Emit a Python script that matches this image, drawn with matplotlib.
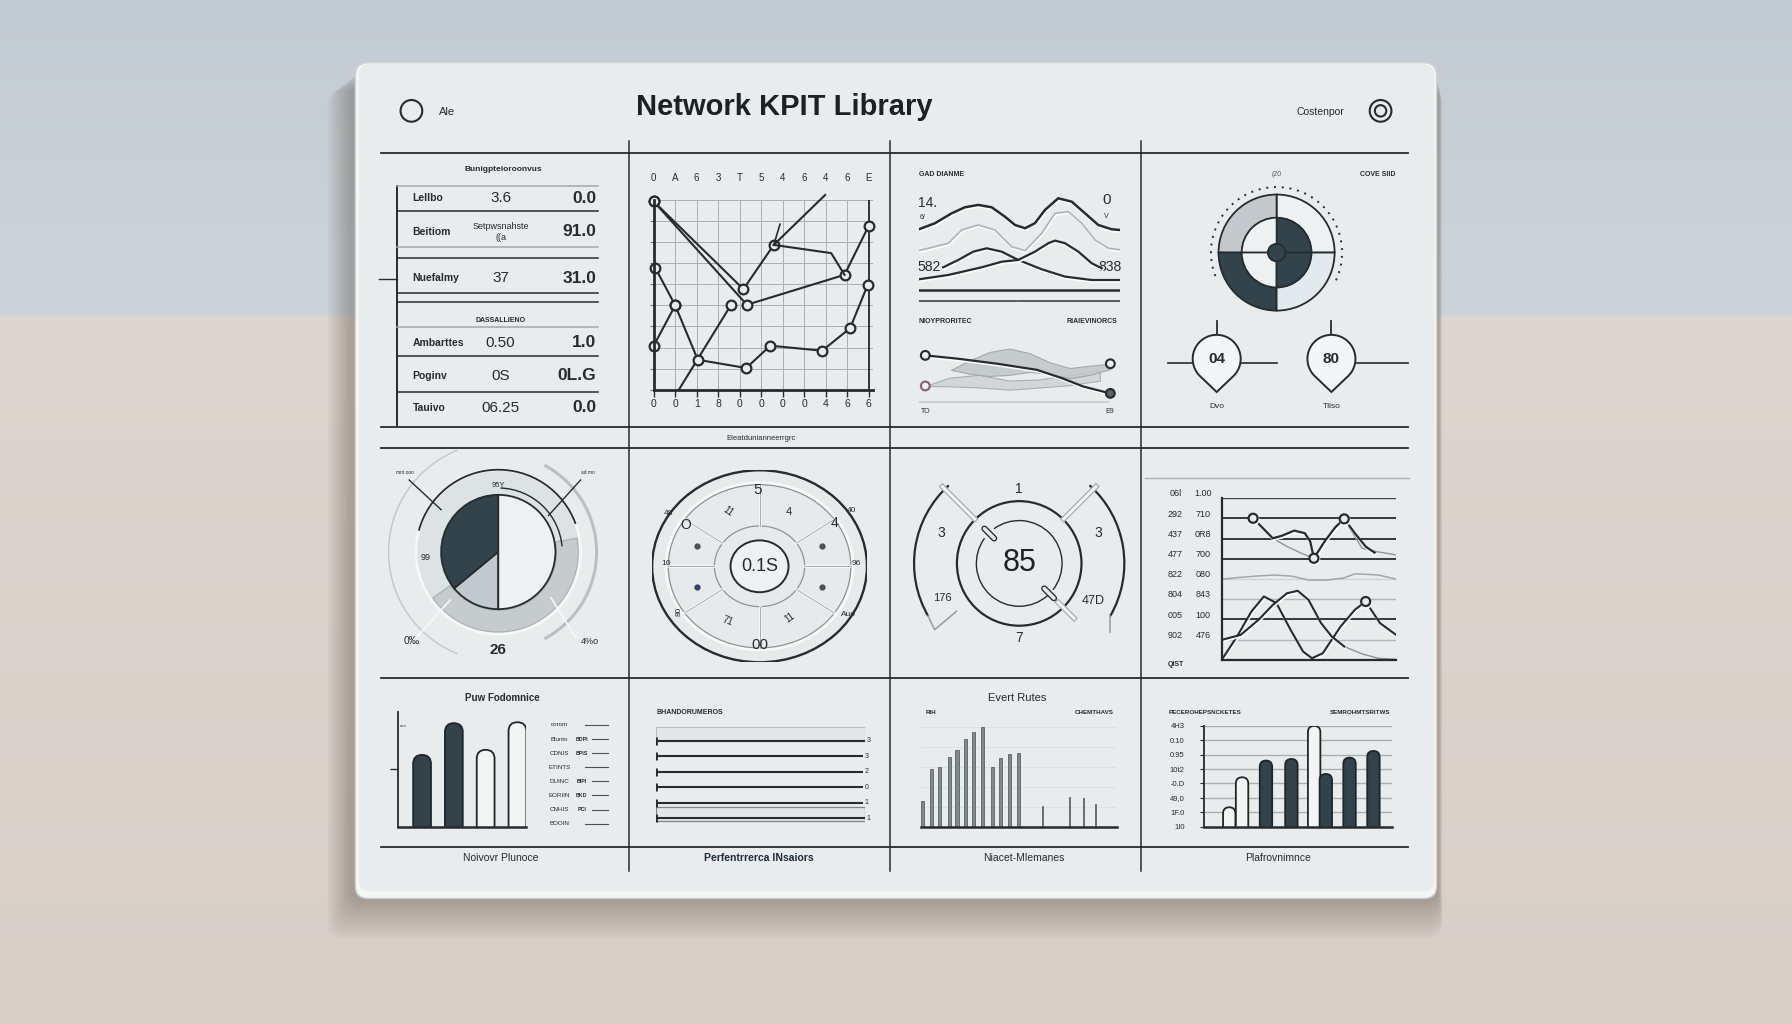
import matplotlib.pyplot as plt
import numpy as np
from matplotlib import colors as mcolors
from matplotlib import patheffects as pe
from matplotlib.patches import FancyBboxPatch, Circle, Wedge, Arc, Rectangle, Polygon

plt.rcParams['font.family'] = ['Liberation Sans', 'DejaVu Sans']

# ---- values ----
title = 'Network KPIT Library'
corner_left = 'Ale'
corner_right = 'Costenpor'

tbl_head = 'Bunigpteioroonvus'
tbl_names = ['Lellbo', 'Beitiom', 'Nuefalmy']
tbl_mid = ['3.6', 'Setpwsnahste\n((a', '37']
tbl_right = ['0.0', '91.0', '31.0']
tbl2_head = 'DASSALLIENO'
tbl2_names = ['Ambarttes', 'Poginv', 'Tauivo']
tbl2_mid = ['0.50', '0S', '06.25']
tbl2_right = ['1.0', '0L.G', '0.0']

grid_top = ['0', 'A', '6', '3', 'T', '5', '4', '6', '4', '6', 'E']
grid_bottom = ['0', '0', '1', '8', '0', '0', '0', '0', '4', '6', '6']
la_x = [0, 4.33, 8.87, 10.0]
la_y = [8.93, 4.03, 5.45, 7.79]
lb_x = [0, 4.17, 5.58]
lb_y = [8.93, 4.77, 6.87]
lb_tail_x = [5.58, 7.97]
lb_tail_y = [6.87, 9.24]
lb_stub_x = [5.58, 5.87]
lb_stub_y = [6.87, 7.85]
lc_x = [1.17, 3.58]
lc_y = [0.0, 4.0]
ld_x = [0.08, 1.0, 2.05, 4.3, 5.42, 7.83, 9.13, 9.95]
ld_y = [5.77, 4.0, 1.42, 1.03, 2.09, 1.85, 2.92, 4.98]
le_x = [0, 1.0]
le_y = [2.09, 4.0]
lf_x = [5.58, 8.25, 8.87]
lf_y = [6.87, 6.48, 5.45]

wave_x = [0, 8, 16.3, 22.9, 29.5, 36.2, 42.8, 47.8, 52.8, 57.7, 62.7, 69.3, 76, 82.6, 89.2, 95.9, 100]
wave_y = [63.1, 68.3, 76.8, 82, 84, 82, 73.9, 66.8, 64, 68.3, 79.7, 89.7, 86.8, 76.8, 66.8, 63.1, 62.5]
ghost_x = [0, 14.6, 21.3, 29.5, 37.8, 46.1, 52.8, 61.1, 67.7, 74.3, 80.9, 87.6, 94.2, 100]
ghost_y = [44.8, 51.1, 62.5, 66.8, 62.5, 48.2, 44.8, 59.7, 76.8, 78.2, 68.3, 53.9, 46.8, 45.5]
cross_a_x = [12.1, 19.6, 27, 33.7, 41.2, 49.4, 61.1, 72.7, 85.9, 100]
cross_a_y = [30.5, 36.8, 43.9, 46.8, 43.9, 36.8, 28.8, 22.5, 19.6, 19.6]
cross_b_x = [0, 14.6, 31.2, 41.2, 49.4, 57.7, 64.3, 67.7, 72.7, 79.3, 85.9, 90.9]
cross_b_y = [20.2, 23.9, 30.5, 35.3, 36.8, 43.9, 51.1, 53.4, 51.1, 43.9, 34, 29.7]
wave_texts = ['GAD DIANME', '14.', '6/', '0', 'V', '582', '838']

flow_x = [3.2, 19.6, 39.1, 58.7, 71.2, 81.9, 95.2]
flow_y = [84.1, 78.2, 69.4, 58.8, 44.1, 29.4, 17.6]
band_x = [16, 25, 35, 45, 55, 65, 75, 85, 95]
band_hi = [58.8, 75, 90, 96, 88, 72, 62, 66, 69.4]
band_lo = [58.8, 52, 48, 50, 55, 52, 44, 50, 60]
band2_x = [3.2, 15, 30, 45, 60, 75, 90]
band2_hi = [30.6, 45, 50, 40, 42, 50, 58]
band2_lo = [30.6, 30, 28, 24, 28, 32, 40]
flow_end_x = [3.2, 3.2, 95.2, 95.2]
flow_end_y = [84.1, 30.6, 69.4, 17.6]

quad_outer = [25, 25, 25, 25]
quad_inner = [25, 25, 25, 25]
pin_values = ['04', '80']
pin_names = ['Dvo', 'Tliso']

pie_shares = [36, 14, 50]
pie_marks = ['95Y', '99', '26', '0‰', '4%o']

dial_center = '0.1S'
dial_marks = ['5', '11', '4', '4', '40', '48', 'O', '10', '96', '80', '71', '11', 'Auo', '00']

gauge_value = '85'
gauge_marks = ['1', '3', '3', '176', '47D', '7']

p8_left = ['06l', '292', '437', '477', '822', '804', '005', '902']
p8_right = ['1.00', '710', '0R8', '700', '080', '843', '100', '476']
p8_up_x = [1.80, 2.42, 2.93, 3.44, 4.16, 4.77, 5.08, 5.29, 5.90, 6.52, 7.03, 7.64, 8.26, 8.77]
p8_up_y = [7.01, 6.47, 6.02, 6.14, 6.40, 6.27, 5.86, 5.03, 5.86, 6.57, 6.98, 6.27, 5.61, 5.31]
p8_thin_x = [2.93, 3.75, 4.57, 5.29]
p8_thin_y = [6.02, 5.61, 5.28, 5.03]
p8_tail_x = [7.03, 8.05, 8.87, 10]
p8_tail_y = [6.98, 5.53, 5.36, 5.2]
p8_flat_x = [0.06, 1, 2, 3, 4, 5, 6, 7, 7.6, 8, 9, 10]
p8_flat_y = [4.0, 4.08, 4.15, 4.2, 4.15, 3.95, 3.95, 4.05, 4.25, 4.25, 4.2, 4.0]
p8_low1_x = [0, 0.88, 1.7, 2.42, 3.14, 3.95, 4.67, 5.18, 5.8, 6.82, 7.64, 8.26, 9.08, 10]
p8_low1_y = [0, 1.16, 2.39, 3.14, 2.81, 1.49, 0.41, 0.08, 0.33, 1.65, 2.48, 2.89, 1.82, 1.24]
p8_low2_x = [0, 1.09, 2.11, 2.93, 3.75, 4.36, 4.98, 5.70, 6.31, 7.03]
p8_low2_y = [0.99, 1.24, 1.98, 2.72, 3.30, 3.42, 2.97, 1.82, 1.16, 0.66]
p8_low2_tail_x = [7.03, 8.05, 8.98, 10]
p8_low2_tail_y = [0.66, 0.3, 0.08, 0.03]

p9_title = 'Puw Fodomnice'
p9_values = [62.3, 89.9, 66.7, 90.7]
p9_dark = [True, True, False, False]
p9_legend = ['corom', 'Blunto', 'CDNIS', 'ETINTS', 'DUINC', 'EORIIN', 'CNHIS', 'BOOIN']
p9_codes = ['', 'BDPI', 'BPIS', '', 'BIPI', 'BKD', 'PCI', '']

p10_head = 'BHANDORUMEROS'
p10_values = [100, 99, 99, 99, 99, 100]
p10_labels = ['3', '3', '2', '0', '1', '1']

p11_title = 'Evert Rutes'
p11_x = [0.2, 1.2, 2.1, 3.2, 4.1, 5.1, 6.0, 7.0, 8.1, 9.1, 10.1, 11.1, 13.9, 16.9, 18.5, 19.9]
p11_h = [25.7, 57.3, 59.3, 69.3, 76.7, 87.7, 94.3, 100, 59.3, 68.3, 72.3, 74, 20.7, 30, 28.3, 22.7]

p12_heads = ['PECEROHEPSNCKETES', 'SEMROHMTSRITWS']
p12_ticks = ['1I0', '1F.0', '49,0', '-0.D', '10t2', '0.95', '0.10', '4H3']
p12_x = [13.3, 20.1, 32.8, 46.3, 58.4, 64.6, 77.2, 89.9]
p12_h = [19.2, 49, 65.6, 67.2, 100, 52.3, 68.5, 75.2]
p12_dark = [False, False, True, True, False, True, True, True]

footers = ['Noivovr Plunoce', 'Perfentrrerca lNsaiors', 'Niacet-Mlemanes', 'Plafrovnimnce']

# ---- layout ----
W, H = 1568, 896
INK = '#252b2f'
DARK = '#33434b'
GRAY = '#c3c9cc'
PALE = '#eef1f2'
PANEL = '#e8ecec'
emb = [pe.SimpleLineShadow(offset=(0.6, -1.2), shadow_color='white', alpha=0.9), pe.Normal()]

fig = plt.figure(figsize=(17.92, 10.24), dpi=100)
ax0 = fig.add_axes([0, 0, 1, 1])


def grad(c_top, c_bot, n=64):
    a = np.array(mcolors.to_rgb(c_top))
    b = np.array(mcolors.to_rgb(c_bot))
    t = np.linspace(0, 1, n)[:, None, None]
    return a + (b - a) * t


def inset(x0, y0, x1, y1):
    a = fig.add_axes([x0 / W, 1 - y1 / H, (x1 - x0) / W, (y1 - y0) / H])
    a.patch.set_alpha(0)
    return a


def rounded_bars(ax, xs, hs, w, faces, edge='#1f2629', lw=1.3):
    bb = ax.get_position()
    bw, bh = bb.width * 1792, bb.height * 1024
    (x0, x1), (y0, y1) = ax.get_xlim(), ax.get_ylim()
    m = ((y1 - y0) / bh) / ((x1 - x0) / bw)
    ry = m * w / 2
    for x, h, fc in zip(xs, hs, faces):
        ax.add_patch(FancyBboxPatch((x - w / 2, -ry), w, h + ry,
                                    boxstyle=f'round,pad=0,rounding_size={w / 2}',
                                    mutation_aspect=m, fc=fc, ec=edge, lw=lw))


ax0.imshow(grad('#c3ccd2', '#cdd4d9'), extent=[0, W, 277, 0], aspect='auto', zorder=0)
ax0.imshow(grad('#ddd6d0', '#d7cfc8'), extent=[0, W, H, 277], aspect='auto', zorder=0)
ax0.set_xlim(0, W)
ax0.set_ylim(H, 0)
ax0.axis('off')

# soft shadow and board
for i in range(16):
    ax0.add_patch(FancyBboxPatch((306 - i * 1.3, 64 + i * 1.0), 953 + i * 1.5, 726 + i * 1.1,
                                 boxstyle='round,pad=0,rounding_size=14', fc='#54463c',
                                 ec='none', alpha=0.022, zorder=1))
ax0.add_patch(FancyBboxPatch((311, 55), 946, 731, boxstyle='round,pad=0,rounding_size=11',
                             fc='#f5f7f7', ec='#cfd4d6', lw=1, zorder=2))
ax0.add_patch(FancyBboxPatch((314, 56), 941, 724, boxstyle='round,pad=0,rounding_size=10',
                             fc=PANEL, ec='none', zorder=2))

for y in [134, 374, 392, 593, 741]:
    ax0.plot([333, 1232], [y, y], color=INK, lw=1.3, zorder=3)
for x in [550, 779, 998]:
    ax0.plot([x, x], [123, 762], color=INK, lw=1.1, zorder=3)

# header
ax0.add_patch(Circle((360, 97), 9.5, fill=False, ec=INK, lw=1.5, zorder=4))
ax0.text(384, 98, corner_left, fontsize=8, ha='left', va='center', color=INK)
ax0.text(686, 94, title, fontsize=21, fontweight='bold', ha='center', va='center', color='#1b2226')
ax0.text(1155, 98, corner_right, fontsize=7.5, ha='center', va='center', color=INK)
ax0.add_patch(Circle((1208, 97), 9.5, fill=False, ec=INK, lw=1.5, zorder=4))
ax0.add_patch(Circle((1208, 97), 5, fill=False, ec=INK, lw=1.5, zorder=4))

# table
ax0.text(440, 148, tbl_head, fontsize=6, fontweight='bold', ha='center', va='center', color=INK)
ax0.plot([347, 347], [163, 372], color=INK, lw=1.4, zorder=3)
ax0.plot([332, 347], [244, 244], color=INK, lw=1, zorder=3)
for y, c in [(163, '#a2a9ac'), (184.5, INK), (216, '#a2a9ac'), (225.5, INK), (256, INK),
             (264.5, INK), (286, '#a2a9ac'), (311.5, INK), (342.7, INK)]:
    ax0.plot([347, 523], [y, y], color=c, lw=1.1, zorder=3)
for names, mids, rights, ys in [(tbl_names, tbl_mid, tbl_right, [173.5, 203, 243.5]),
                                (tbl2_names, tbl2_mid, tbl2_right, [300, 329, 357])]:
    for n, m, r, y in zip(names, mids, rights, ys):
        ax0.text(361, y, n, fontsize=7.5, fontweight='bold', ha='left', va='center', color=INK)
        small = '\n' in m
        ax0.text(438, y, m, fontsize=6.5 if small else 11, ha='center', va='center',
                 linespacing=1.3, color=INK)
        ax0.text(522, y, r, fontsize=12.5, fontweight='bold', ha='right', va='center', color=INK)
ax0.text(438, 280.5, tbl2_head, fontsize=5, fontweight='bold', ha='center', va='center', color=INK)

# grid line chart
ax = inset(572, 175, 764, 341)
ax.set_xlim(0, 10.2)
ax.set_ylim(0, 9)
ax.set_xticks(range(11))
ax.set_xticklabels(grid_bottom, fontsize=7.5, color=INK)
ax.set_yticks(range(10))
ax.set_yticklabels([])
ax.grid(True, color='#a9afb2', lw=0.7)
ax.tick_params(axis='x', direction='out', length=5, width=1, pad=2, colors=INK)
ax.tick_params(axis='y', length=3, width=0.8, colors='#6d7478')
for s in ['top', 'right']:
    ax.spines[s].set_visible(False)
for s in ['left', 'bottom']:
    ax.spines[s].set_linewidth(2)
    ax.spines[s].set_color(INK)
ax.axvline(10, color=INK, lw=1.3)
sec = ax.secondary_xaxis('top')
sec.set_xticks(range(11))
sec.set_xticklabels(grid_top, fontsize=7, color=INK)
sec.tick_params(length=0, pad=12)
sec.spines['top'].set_visible(False)
mk = dict(marker='o', ms=7, mfc=PANEL, mec=INK, mew=1.6, color=INK, lw=1.5, clip_on=False)
ax.plot(la_x, la_y, **mk)
ax.plot(lb_x, lb_y, **mk)
ax.plot(lb_tail_x, lb_tail_y, color=INK, lw=1.5, clip_on=False)
ax.plot(lb_stub_x, lb_stub_y, color=INK, lw=1.2, clip_on=False)
ax.plot(lc_x, lc_y, markevery=[1], **mk)
ax.plot(le_x, le_y, **mk)
ax.plot(lf_x, lf_y, color=INK, lw=1.5)
ax.plot(ld_x, ld_y, **mk)

# waves
aw = inset(804, 163, 980, 265)
aw.set_xlim(0, 100)
aw.set_ylim(0, 100)
aw.axis('off')
aw.plot(ghost_x, ghost_y, color='#aeb4b7', lw=1.2, path_effects=emb)
aw.plot(wave_x, wave_y, color=INK, lw=1.8, path_effects=emb)
aw.plot(cross_a_x, cross_a_y, color=INK, lw=1.6, path_effects=emb)
aw.plot(cross_b_x, cross_b_y, color=INK, lw=1.6, path_effects=emb)
aw.axhline(11.1, color=INK, lw=1.8)
aw.plot([0, 49], [1.2, 1.2], color='#4a5256', lw=1.3)
aw.plot([50, 100], [1.2, 1.2], color='#4a5256', lw=1.3)
ax0.text(804, 153, wave_texts[0], fontsize=5, fontweight='bold', ha='left', va='center', color=INK)
ax0.text(803, 178, wave_texts[1], fontsize=10, ha='left', va='center', color=INK)
ax0.text(805, 190, wave_texts[2], fontsize=5, ha='left', va='center', color=INK)
ax0.text(968, 175, wave_texts[3], fontsize=11, ha='center', va='center', color=INK)
ax0.text(968, 189, wave_texts[4], fontsize=5, ha='center', va='center', color=INK)
ax0.text(803, 234, wave_texts[5], fontsize=10, ha='left', va='center', color=INK)
ax0.text(981, 234, wave_texts[6], fontsize=10, ha='right', va='center', color=INK)
ax0.text(804, 281, 'NIOYPRORITEC', fontsize=5, fontweight='bold', ha='left', va='center', color=INK)
ax0.text(978, 281, 'RIAIEVINORCS', fontsize=5, fontweight='bold', ha='right', va='center', color=INK)

af = inset(804, 303, 980, 353)
af.set_xlim(0, 100)
af.set_ylim(0, 100)
af.axis('off')
af.fill_between(band2_x, band2_lo, band2_hi, color='#d2d6d8', ec='#a9afb2', lw=0.8)
af.fill_between(band_x, band_lo, band_hi, color='#c3c8cb', ec='#9fa5a8', lw=0.8, alpha=0.9)
af.plot([0, 94], [3, 3], color='#c6cacc', lw=1.2)
af.plot(flow_x, flow_y, color=INK, lw=1.6, path_effects=emb)
af.scatter(flow_end_x, flow_end_y, s=40, c=[PALE, PALE, PALE, '#59636a'],
           edgecolors=[INK, '#8a5a7a', INK, INK], linewidths=1.5, zorder=5, clip_on=False)
ax0.text(810, 360, 'TO', fontsize=5, ha='center', va='center', color=INK)
ax0.text(971, 360, 'E9', fontsize=5, ha='center', va='center', color=INK)

# donut quadrants
ad = inset(1051, 155, 1183, 287)
ad.pie(quad_outer, radius=1.0, colors=[PALE, GRAY, DARK, '#e2eaee'], startangle=0,
       counterclock=True, wedgeprops=dict(width=0.4, edgecolor=INK, linewidth=1.3))
ad.pie(quad_inner, radius=0.6, colors=[DARK, PALE, PALE, DARK], startangle=0,
       counterclock=True, wedgeprops=dict(width=0.46, edgecolor=INK, linewidth=1.2))
ad.add_patch(Circle((0, 0), 0.15, fc=DARK, ec=INK, lw=1.3, zorder=5))
ad.add_patch(Arc((0, 0), 2.26, 2.26, theta1=-25, theta2=205, ls=(0, (1, 3)), color=INK, lw=1.4))
ad.set_xlim(-1.3, 1.3)
ad.set_ylim(-1.3, 1.3)
ad.set_aspect('equal')
ad.axis('off')
ax0.text(1117, 152.5, '(20', fontsize=5, ha='center', va='center', color='#555c60')
ax0.text(1221, 152.5, 'COVE SIID', fontsize=5, fontweight='bold', ha='right', va='center', color=INK)

# pins
ax0.plot([1022, 1117], [318, 318], color=INK, lw=1.2, zorder=4)
ax0.plot([1165, 1232], [318, 318], color=INK, lw=1.2, zorder=4)
for i, (val, name) in enumerate(zip(pin_values, pin_names)):
    cx, cy, r = 1064.6 + i * 100.4, 314, 21
    th = np.radians(np.linspace(-45, 225, 60))
    verts = list(zip(cx + r * np.cos(th), cy - r * np.sin(th))) + [(cx, cy + 29)]
    ax0.add_patch(Polygon(verts, closed=True, fc='#f3f5f6', ec=INK, lw=1.4, zorder=5))
    ax0.text(cx, cy, val, fontsize=11, fontweight='bold', ha='center', va='center', color=INK, zorder=6)
    ax0.plot([cx, cx], [281, 293], color=INK, lw=1.3, zorder=4)
    ax0.text(cx, 356, name, fontsize=6, ha='center', va='center', color=INK)

# pie
ap = inset(336, 383, 536, 583)
ap.add_patch(Circle((0, 0), 0.72, fc='#dde2e4', ec='#f6f8f8', lw=2))
ap.add_patch(Wedge((0, 0), 0.70, 215, 370, width=0.19, fc='#c6cbce', ec='#aab0b3', lw=0.8))
ap.pie(pie_shares, radius=0.5, colors=[DARK, '#c3c9cc', PALE], startangle=90, counterclock=True,
       wedgeprops=dict(edgecolor=INK, linewidth=1.3))
ap.add_patch(Arc((0, 0), 1.44, 1.44, theta1=20, theta2=165, color=INK, lw=1.3))
ap.add_patch(Arc((0, 0), 1.12, 1.12, theta1=5, theta2=88, color=INK, lw=1.0))
ap.add_patch(Arc((0, 0), 1.72, 1.72, theta1=-62, theta2=62, color='#b9bfc2', lw=2.2))
ap.add_patch(Arc((0, 0), 1.92, 1.92, theta1=112, theta2=248, color='#c2c7ca', lw=1))
ap.plot([-0.78, -0.5], [0.63, 0.37], color=INK, lw=1)
ap.plot([0.72, 0.44], [0.63, 0.32], color=INK, lw=1)
ap.plot([-0.71, -0.42], [-0.74, -0.42], color='#f7f9f9', lw=1.2)
ap.plot([0.46, 0.68], [-0.40, -0.75], color='#f7f9f9', lw=1.2)
ap.text(0.0, 0.58, pie_marks[0], fontsize=5.5, ha='center', va='center', color=INK)
ap.text(-0.64, -0.05, pie_marks[1], fontsize=6.5, ha='center', va='center', color=INK)
ap.text(0.0, -0.86, pie_marks[2], fontsize=11, fontweight='bold', ha='center', va='center', color=INK)
ap.text(-0.76, -0.78, pie_marks[3], fontsize=7.5, ha='center', va='center', color=INK)
ap.text(0.80, -0.78, pie_marks[4], fontsize=6.5, ha='center', va='center', color=INK)
ap.text(-0.82, 0.70, 'mnt ooo', fontsize=3.5, ha='center', va='center', color=INK)
ap.text(0.78, 0.70, 'ad mo', fontsize=3.5, ha='center', va='center', color=INK)
ap.set_xlim(-1, 1)
ap.set_ylim(-1, 1)
ap.set_aspect('equal')
ap.axis('off')

# radial dial
ax0.text(666, 384, 'Eleatdunianneerrgrc', fontsize=5.5, ha='center', va='center', color=INK)
ar = inset(570.6, 411.5, 758.6, 579.5)
ar.set_xlim(-1, 1)
ar.set_ylim(-1, 1)
ar.axis('off')
ar.add_patch(Circle((0, 0), 1.0, fc='#e6eaeb', ec=INK, lw=1.7))
ar.add_patch(Circle((0, 0), 0.87, fill=False, ec='#f7f9f9', lw=2.2))
ar.add_patch(Circle((0, 0), 0.85, fill=False, ec='#8d9497', lw=0.9))
ar.add_patch(Circle((0, 0), 0.42, fill=False, ec='#8d9497', lw=0.9))
ar.add_patch(Circle((0, 0), 0.27, fc=PALE, ec=INK, lw=1.4))
for ang in [0, 35, 90, 145, 180, 215, 270, 325]:
    t = np.radians(ang)
    ar.plot([0.42 * np.cos(t), 0.85 * np.cos(t)], [0.42 * np.sin(t), 0.85 * np.sin(t)],
            color='#f9fbfb', lw=1.8)
    ar.plot([0.42 * np.cos(t), 0.85 * np.cos(t)], [0.42 * np.sin(t), 0.85 * np.sin(t)],
            color='#a4abae', lw=0.7)
for ang, col in [(160, '#4b5256'), (20, '#4b5256'), (200, '#34406a'), (340, '#4b5256')]:
    t = np.radians(ang)
    ar.plot(0.62 * np.cos(t), 0.62 * np.sin(t), 'o', ms=3.5, color=col)
dial_pos = [(-0.02, 0.79, 11, 0), (-0.29, 0.57, 7, -35), (0.27, 0.57, 8, 0), (0.70, 0.45, 10, 0),
            (0.86, 0.58, 6, 0), (-0.85, 0.55, 6, 0), (-0.69, 0.43, 10, 0), (-0.87, 0.03, 6, 0),
            (0.9, 0.03, 6, 0), (-0.75, -0.47, 6, 90), (-0.3, -0.57, 7, -20), (0.28, -0.54, 7, 35),
            (0.83, -0.5, 6, 0), (0, -0.82, 11, 0)]
for lab, (x, y, fs, rot) in zip(dial_marks, dial_pos):
    ar.text(x, y, lab, fontsize=fs, rotation=rot, ha='center', va='center', color=INK)
ar.text(0, 0, dial_center, fontsize=13, ha='center', va='center', color=INK)

# big gauge
ag = inset(791.8, 393, 991.8, 593)
ag.set_xlim(-1, 1)
ag.set_ylim(-1, 1)
ag.set_aspect('equal')
ag.axis('off')
for ang, r0, r1 in [(135, 0.55, 0.95), (45, 0.55, 0.95), (-45, 0.48, 0.68)]:
    t = np.radians(ang)
    ag.plot([r0 * np.cos(t), r1 * np.cos(t)], [r0 * np.sin(t), r1 * np.sin(t)], color='#aab1b4', lw=4)
    ag.plot([r0 * np.cos(t), r1 * np.cos(t)], [r0 * np.sin(t), r1 * np.sin(t)], color='#f4f6f6', lw=2)
ag.add_patch(Circle((0, 0), 0.545, fill=False, ec=INK, lw=1.6))
ag.add_patch(Arc((0, 0), 0.75, 0.75, theta1=-38, theta2=126, color=INK, lw=1))
ag.add_patch(Arc((0, 0), 0.75, 0.75, theta1=144, theta2=312, color=INK, lw=1))
for ang in (135, -45):
    t = np.radians(ang)
    ag.plot([0.31 * np.cos(t), 0.43 * np.cos(t)], [0.31 * np.sin(t), 0.43 * np.sin(t)],
            color=INK, lw=4.5, solid_capstyle='round')
    ag.plot([0.31 * np.cos(t), 0.43 * np.cos(t)], [0.31 * np.sin(t), 0.43 * np.sin(t)],
            color='#e3e7e8', lw=2.6, solid_capstyle='round')
ag.add_patch(Arc((0, 0), 1.84, 1.84, theta1=132, theta2=210, color=INK, lw=1.6))
ag.add_patch(Arc((0, 0), 1.84, 1.84, theta1=-30, theta2=48, color=INK, lw=1.6))
ag.plot([-0.797, -0.74, -0.55], [-0.46, -0.58, -0.42], color='#9aa1a4', lw=1.2)
ag.plot([0.797, 0.797], [-0.46, -0.6], color='#9aa1a4', lw=1.2)
for lab, (x, y, fs) in zip(gauge_marks, [(0, 0.65, 10), (-0.68, 0.27, 10), (0.69, 0.27, 10),
                                         (-0.67, -0.30, 8), (0.65, -0.33, 9), (0, -0.655, 10)]):
    ag.text(x, y, lab, fontsize=fs, ha='center', va='center', color=INK)
ag.text(0, 0, gauge_value, fontsize=22, ha='center', va='center', color='#1b2226')

# multi-line panel
ax0.plot([1002, 1233], [418, 418], color='#aab0b3', lw=1, zorder=3)
am = inset(1069, 436, 1221.5, 577.4)
am.set_xlim(0, 10)
am.set_ylim(0, 8)
am.set_xticks([])
am.set_yticks([])
for s in ['top', 'right']:
    am.spines[s].set_visible(False)
for s in ['left', 'bottom']:
    am.spines[s].set_color(INK)
    am.spines[s].set_linewidth(1.6)
row_style = {1: '#b2b8bb', 2: INK, 3: '#b2b8bb', 4: '#d0d4d6', 5: INK, 6: INK, 7: INK, 8: '#3d4448'}
for lvl, col in row_style.items():
    am.axhline(lvl, color=col, lw=1.3 if col == INK else 1.0, zorder=1)
for i, (l, r) in enumerate(zip(p8_left, p8_right)):
    lvl = 8 - i
    am.text(-0.265, lvl + 0.22, l, fontsize=6.5, ha='center', va='center', color=INK,
            transform=am.get_yaxis_transform())
    am.text(-0.107, lvl + 0.22, r, fontsize=6.5, ha='center', va='center', color=INK,
            transform=am.get_yaxis_transform())
am.text(-0.265, -0.25, 'QIST', fontsize=5, fontweight='bold', ha='center', va='center',
        color=INK, transform=am.get_yaxis_transform())
am.plot(p8_flat_x, p8_flat_y, color='#a0a7aa', lw=1.1)
am.plot(p8_thin_x, p8_thin_y, color='#8e9598', lw=1.0)
am.plot(p8_tail_x, p8_tail_y, color='#8e9598', lw=1.0)
am.plot(p8_up_x, p8_up_y, color=INK, lw=1.6, marker='o', markevery=[0, 7, 10], ms=6.5,
        mfc=PANEL, mec=INK, mew=1.6, path_effects=emb)
am.plot(p8_low2_tail_x, p8_low2_tail_y, color='#8e9598', lw=1.0)
am.plot(p8_low1_x, p8_low1_y, color=INK, lw=1.5, marker='o', markevery=[11], ms=6.5,
        mfc=PANEL, mec=INK, mew=1.6, path_effects=emb)
am.plot(p8_low2_x, p8_low2_y, color=INK, lw=1.5, path_effects=emb)

# bars with legend
ax0.text(439.5, 611, p9_title, fontsize=7, fontweight='bold', ha='center', va='center', color=INK)
b9 = inset(348, 622.6, 460, 723.2)
b9.set_xlim(0.234, 4.26)
b9.set_ylim(0, 100)
b9.set_xticks([])
b9.set_yticks([50])
b9.set_yticklabels([])
b9.tick_params(axis='y', direction='out', length=6, width=1, colors=INK)
for s in ['top', 'right']:
    b9.spines[s].set_visible(False)
b9.spines['left'].set_linewidth(1.3)
b9.spines['bottom'].set_linewidth(1.8)
b9.spines['left'].set_color(INK)
b9.spines['bottom'].set_color(INK)
b9.text(0.42, 87, 'ooo', fontsize=3, ha='center', va='center', color=INK)
rounded_bars(b9, [1, 2, 3, 4], p9_values, 0.56, [DARK if d else '#f3f5f5' for d in p9_dark])
for i, (lab, code) in enumerate(zip(p9_legend, p9_codes)):
    y = 634.3 + i * 12.35
    ax0.text(489.6, y, lab, fontsize=4.5, ha='center', va='center', color=INK)
    if code:
        ax0.text(509, y, code, fontsize=3.8, fontweight='bold', ha='center', va='center', color=INK)
        ax0.plot([518, 532], [y, y], color='#4a5256', lw=0.8, zorder=3)
    else:
        ax0.plot([512, 532], [y, y], color='#4a5256', lw=0.8, zorder=3)

# horizontal rules panel
ax0.text(574.6, 623, p10_head, fontsize=5, fontweight='bold', ha='left', va='center', color=INK)
b10 = inset(574, 630, 757, 728)
b10.set_xlim(0, 100)
b10.set_ylim(5.88, -1.32)
b10.axis('off')
b10.add_patch(Rectangle((0, -0.9), 100, 0.9, fc='#e2e6e7', ec='#b7bdc0', lw=0.8))
b10.add_patch(Rectangle((0, 4.3), 100, 0.9, fc='#e2e6e7', ec='#7d8588', lw=0.9))
rows = np.arange(len(p10_values))
b10.hlines(rows, 0, p10_values, color=INK, lw=1.5)
b10.plot(np.zeros(len(rows)), rows, '|', ms=6, mew=2, color=INK)
for y, v, lab in zip(rows, p10_values, p10_labels):
    b10.text(v + 0.6, y, lab, fontsize=5, ha='left', va='center', color=INK)

# thin bars
ax0.text(890, 611, p11_title, fontsize=8, ha='center', va='center', color=INK)
ax0.text(815, 623.4, 'RIH', fontsize=4.5, fontweight='bold', ha='center', va='center', color=INK)
ax0.text(957, 623.4, 'CHEMTHAVS', fontsize=4.5, fontweight='bold', ha='center', va='center', color=INK)
b11 = inset(806, 635.8, 977, 723.3)
b11.set_xlim(0, 22.3)
b11.set_ylim(0, 100)
b11.set_xticks([])
b11.set_yticks([])
for s in ['top', 'right', 'left']:
    b11.spines[s].set_visible(False)
b11.spines['bottom'].set_linewidth(1.8)
b11.spines['bottom'].set_color(INK)
for lvl in [20, 40, 60, 80, 100]:
    b11.axhline(lvl, color='#dde1e3', lw=0.8, zorder=0)
widths = [0.36] * 12 + [0.12] * 4
b11.bar(p11_x, p11_h, width=widths, color='#80888c', edgecolor='#5b6367', lw=0.6)

# grouped bars
ax0.text(1054.3, 623.5, p12_heads[0], fontsize=4.5, fontweight='bold', ha='center', va='center', color=INK)
ax0.text(1190.3, 623.5, p12_heads[1], fontsize=4.5, fontweight='bold', ha='center', va='center', color=INK)
b12 = inset(1053.7, 635.2, 1218.4, 723.3)
b12.set_xlim(0, 100)
b12.set_ylim(0, 100)
b12.set_xticks([])
levels = np.linspace(0, 100, 8)
b12.set_yticks(levels)
b12.set_yticklabels(p12_ticks, fontsize=5.5, color=INK)
b12.tick_params(axis='y', direction='out', length=3, width=0.8, pad=11, colors=INK)
for lvl in levels[1:]:
    b12.axhline(lvl, color='#a9afb2', lw=1, zorder=0)
for s in ['top', 'right']:
    b12.spines[s].set_visible(False)
b12.spines['left'].set_linewidth(1.3)
b12.spines['bottom'].set_linewidth(1.8)
b12.spines['left'].set_color(INK)
b12.spines['bottom'].set_color(INK)
rounded_bars(b12, p12_x, p12_h, 6.6, [DARK if d else '#f3f5f5' for d in p12_dark])

for x, lab, fw, col in zip([438, 664, 896, 1118], footers,
                           ['normal', 'bold', 'normal', 'normal'], [INK, '#1f2a3a', INK, INK]):
    ax0.text(x, 750.4, lab, fontsize=7.5, fontweight=fw, ha='center', va='center', color=col)

fig.savefig('out.png', dpi=100)
